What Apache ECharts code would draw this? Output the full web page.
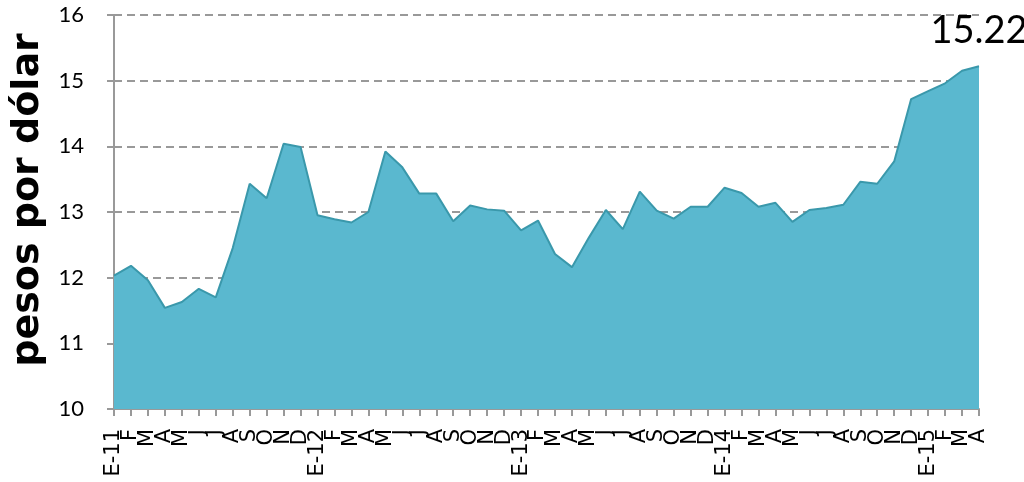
<!DOCTYPE html>
<html>
<head>
<meta charset="utf-8">
<script src="https://cdn.jsdelivr.net/npm/echarts@6/dist/echarts.min.js"></script>
<style>
  html, body { margin: 0; padding: 0; background: #fff; }
  #main { width: 1024px; height: 482px; }
</style>
</head>
<body>
<div id="main"></div>
<script>
// meses: ene-2011 .. abr-2015
var meses = [
  'E-11','F','M','A','M','J','J','A','S','O','N','D',
  'E-12','F','M','A','M','J','J','A','S','O','N','D',
  'E-13','F','M','A','M','J','J','A','S','O','N','D',
  'E-14','F','M','A','M','J','J','A','S','O','N','D',
  'E-15','F','M','A'
];
// tipo de cambio, pesos por dólar
var tipoCambio = [
  12.03, 12.18, 11.96, 11.54, 11.63, 11.83, 11.70, 12.45, 13.43, 13.21, 14.04, 13.99,
  12.95, 12.89, 12.84, 13.00, 13.92, 13.68, 13.28, 13.28, 12.86, 13.10, 13.04, 13.02,
  12.72, 12.87, 12.36, 12.16, 12.61, 13.03, 12.74, 13.31, 13.02, 12.90, 13.08, 13.08,
  13.37, 13.29, 13.08, 13.14, 12.85, 13.03, 13.06, 13.11, 13.46, 13.43, 13.77, 14.72,
  14.84, 14.96, 15.15, 15.22
];
var yTicks = [10, 11, 12, 13, 14, 15, 16];

var chart = echarts.init(document.getElementById('main'));
var fuente = 'Lato';

var option = {
  animation: false,
  grid: { left: 114, right: 45, top: 15, bottom: 73, containLabel: false, outerBoundsMode: 'none' },
  xAxis: {
    type: 'category',
    data: meses,
    boundaryGap: false,
    axisLine: { lineStyle: { color: '#999', width: 2 } },
    axisTick: { show: true, interval: 0, length: 7, lineStyle: { color: '#999', width: 2 } },
    axisLabel: {
      interval: 0,
      rotate: 90,
      margin: 20,
      color: '#000',
      fontFamily: 'DejaVu Sans',
      fontSize: 21,
      formatter: function (v, i) { return meses[i]; }
    },
    splitLine: { show: false }
  },
  yAxis: {
    type: 'value',
    min: yTicks[0],
    max: yTicks[yTicks.length - 1],
    interval: 1,
    name: 'pesos por dólar',
    nameLocation: 'middle',
    nameGap: 62,
    nameRotate: 90,
    nameTextStyle: {
      color: '#000',
      fontFamily: 'DejaVu Sans',
      fontWeight: 'bold',
      fontSize: 38,
      padding: [0, 0, 0, 24]
    },
    axisLine: { show: true, lineStyle: { color: '#999', width: 2 } },
    axisTick: { show: true, length: 7, lineStyle: { color: '#999', width: 2 } },
    axisLabel: { color: '#000', fontFamily: fuente, fontSize: 22, margin: 30 },
    splitLine: { show: true, lineStyle: { color: '#999', type: [8, 5], width: 2 } }
  },
  series: [{
    type: 'line',
    data: tipoCambio,
    showSymbol: true,
    symbol: 'circle',
    symbolSize: 0,
    lineStyle: { color: '#3a98ab', width: 2 },
    itemStyle: { color: '#3a98ab' },
    areaStyle: { color: '#5ab8cf', opacity: 1 },
    label: {
      show: true,
      position: 'top',
      distance: 16,
      color: '#000',
      fontFamily: fuente,
      fontSize: 38,
      formatter: function (p) {
        return p.dataIndex === tipoCambio.length - 1 ? p.value.toFixed(2) : '';
      }
    }
  }]
};
chart.setOption(option);
</script>
</body>
</html>
